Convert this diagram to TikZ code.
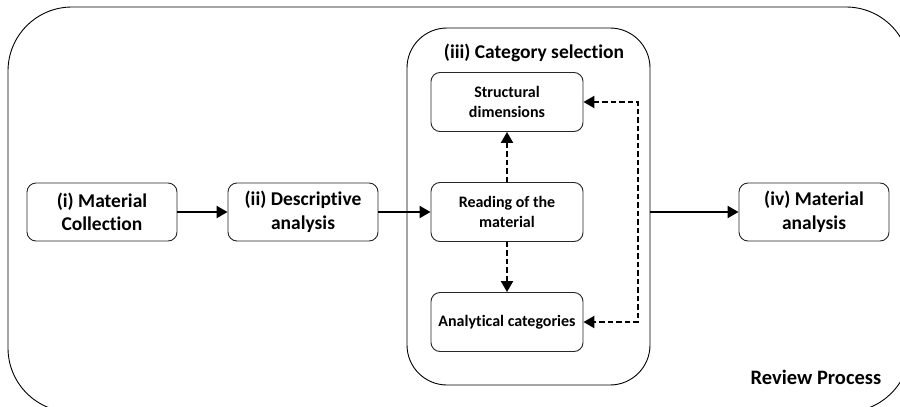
\documentclass[tikz,border=0pt]{standalone}
\usepackage{fontspec}
\setmainfont{Carlito}[Ligatures=CommonOff]
\usetikzlibrary{arrows.meta,calc}
\begin{document}
\begin{tikzpicture}[x=1pt,y=-1pt,
  frame/.style={draw=black, line width=0.9pt, inner sep=0pt},
  box/.style={draw=black!85, line width=0.9pt, rounded corners=9pt,
    minimum width=150pt, minimum height=58pt, align=center, inner sep=0pt,
    font=\fontsize{19.5}{23.5}\selectfont\bfseries},
  subbox/.style={box, minimum width=152pt, minimum height=59pt,
    font=\fontsize{16}{19.5}\selectfont\bfseries},
  lbl/.style={inner sep=0pt, font=\fontsize{19.5}{23.5}\selectfont\bfseries},
  flow/.style={line width=2.2pt, -{Triangle[length=11pt,width=12pt]}},
  dflow/.style={flow, dash pattern=on 5.5pt off 3pt},
]
\useasboundingbox (0,0) rectangle (900,407);
\begin{scope}
  \clip (0,0) rectangle (900,407);
  % outer frame of the whole review process
  \node[frame, rounded corners=64pt, minimum width=902pt, minimum height=405pt]
    (review) at (459,209.5) {};
\end{scope}

% category selection container
\node[frame, rounded corners=40pt, minimum width=243pt, minimum height=357pt]
  (cat) at (528.5,206.5) {};
\node[lbl] (cattitle) at (534,53) {(iii) Category selection};

% main steps
\node[box] (m1) at (102,212) {(i) Material\\Collection};
\node[box] (m2) at (303,212) {(ii) Descriptive\\analysis};
\node[box] (m4) at (814,212) {(iv) Material\\analysis};

% inner boxes
\node[subbox] (sd) at (507,102) {Structural\\dimensions};
\node[subbox] (rd) at (507,212) {Reading of the\\material};
\node[subbox] (ac) at (507,322) {Analytical categories};

\node[lbl, font=\fontsize{20.5}{24}\selectfont\bfseries] (rp) at (816,377) {Review Process};

% connectors
\draw[flow] (m1) -- (m2);
\draw[flow] (m2) -- (rd);
\draw[flow] (m4 -| cat.east) -- (m4);
\draw[dflow] (rd) -- (sd);
\draw[dflow] (rd) -- (ac);
\coordinate (loop) at (638,212);
\draw[line width=2.2pt, dash pattern=on 5.5pt off 3pt, {Triangle[length=11pt,width=12pt]}-{Triangle[length=11pt,width=12pt]}]
  (sd.east) -| (loop) |- (ac.east);
\end{tikzpicture}
\end{document}
